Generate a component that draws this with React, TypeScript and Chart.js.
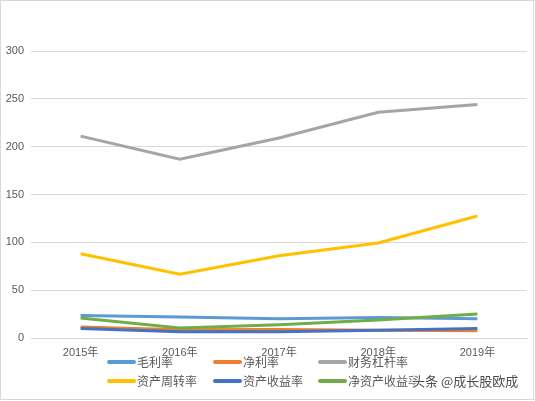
import { useEffect, useRef } from "react";
import { Chart, registerables } from "chart.js";

Chart.register(...registerables);

const categories = ["2015年", "2016年", "2017年", "2018年", "2019年"];
const grossMargin = [23.5, 21.9, 20.1, 21.5, 20.0];
const netMargin = [11.4, 8.6, 8.9, 8.2, 7.6];
const leverage = [211, 187, 209, 236, 244];
const assetTurnover = [88, 66.7, 86, 99.3, 127.6];
const roa = [10, 6.6, 6.6, 8, 10];
const roe = [20.8, 10.4, 13.9, 18.7, 25];
const seriesNames = ["毛利率", "净利率", "财务杠杆率", "资产周转率", "资产收益率", "净资产收益率"];
const seriesColors = ["#5B9BD5", "#ED7D31", "#A5A5A5", "#FFC000", "#4472C4", "#70AD47"];
const yMin = 0;
const yMax = 300;
const yStep = 50;
const watermark = "头条 @成长股欧成";

const FONT = '"Liberation Sans", "Noto Sans CJK SC", sans-serif';
const CJK_FONT = '"Noto Sans CJK SC", "Liberation Sans", sans-serif';

const framePlugin = {
  id: "frame",
  beforeDraw(chart: any) {
    const ctx = chart.ctx;
    ctx.save();
    ctx.fillStyle = "#ffffff";
    ctx.fillRect(0, 0, chart.width, chart.height);
    ctx.strokeStyle = "#d9d9d9";
    ctx.lineWidth = 1;
    ctx.strokeRect(0.5, 0.5, 533, 399);
    ctx.restore();
  },
};

const gridLegendPlugin = {
  id: "gridLegend",
  afterDraw(chart: any) {
    const ctx = chart.ctx;
    const cols = [107, 213, 318];
    const rows = [362, 381];
    ctx.save();
    chart.data.datasets.forEach((ds: any, i: number) => {
      const x = cols[i % 3];
      const y = rows[Math.floor(i / 3)];
      ctx.strokeStyle = ds.borderColor;
      ctx.lineWidth = 4;
      ctx.lineCap = "round";
      ctx.beginPath();
      ctx.moveTo(x + 2, y);
      ctx.lineTo(x + 27, y);
      ctx.stroke();
      ctx.fillStyle = "#595959";
      ctx.font = `12px ${CJK_FONT}`;
      ctx.textBaseline = "middle";
      ctx.textAlign = "left";
      ctx.fillText(ds.label, x + 30, y);
    });
    // watermark
    ctx.font = `13px ${CJK_FONT}`;
    ctx.textBaseline = "middle";
    ctx.lineWidth = 2.5;
    ctx.lineJoin = "round";
    ctx.strokeStyle = "rgba(255,255,255,0.9)";
    ctx.strokeText(watermark, 412, 381);
    ctx.fillStyle = "#4d4d4d";
    ctx.fillText(watermark, 412, 381);
    ctx.restore();
  },
};

export default function App() {
  const ref = useRef<HTMLCanvasElement>(null);
  useEffect(() => {
    if (!ref.current) return;
    const series = [grossMargin, netMargin, leverage, assetTurnover, roa, roe];
    const chart = new Chart(ref.current, {
      type: "line",
      data: {
        labels: categories,
        datasets: series.map((d, i) => ({
          label: seriesNames[i],
          data: d,
          borderColor: seriesColors[i],
          backgroundColor: seriesColors[i],
          borderWidth: 3,
          pointRadius: 0,
          pointHoverRadius: 0,
          tension: 0,
          fill: false,
          order: series.length - i,
        })),
      },
      options: {
        animation: false,
        responsive: false,
        devicePixelRatio: 1,
        layout: { padding: { top: 51, right: 8, left: 0, bottom: 0 } },
        plugins: {
          legend: { display: false },
          tooltip: { enabled: false },
          title: { display: false },
        },
        scales: {
          x: {
            offset: true,
            grid: { display: false, drawTicks: false },
            border: { display: true, color: "#d9d9d9", width: 1 },
            ticks: {
              color: "#595959",
              font: { family: FONT, size: 11 },
              padding: 8,
              maxRotation: 0,
              autoSkip: false,
            },
            afterFit: (scale: any) => {
              scale.height = 63;
            },
          },
          y: {
            min: yMin,
            max: yMax,
            grid: { color: "#d9d9d9", drawTicks: false, lineWidth: 1 },
            border: { display: false },
            ticks: {
              stepSize: yStep,
              color: "#595959",
              font: { family: FONT, size: 11 },
              padding: 7,
            },
            afterFit: (scale: any) => {
              scale.width = 31;
            },
          },
        },
      },
      plugins: [framePlugin, gridLegendPlugin],
    });
    return () => chart.destroy();
  }, []);
  return (
    <div style={{ position: "absolute", left: 0, top: 0, width: 535, height: 401 }}>
      <canvas ref={ref} width={535} height={401} style={{ width: 535, height: 401, display: "block" }} />
    </div>
  );
}
